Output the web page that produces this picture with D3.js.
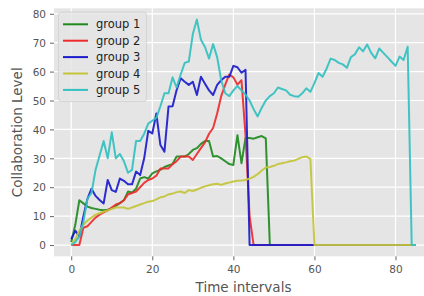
<!DOCTYPE html>
<html><head><meta charset="utf-8">
<script src="https://cdn.jsdelivr.net/npm/d3@7"></script>
<style>
html,body{margin:0;padding:0;background:#fff;}
svg{display:block;font-family:"DejaVu Sans",sans-serif;}
</style></head>
<body><svg id="c" width="424" height="296"></svg>
<script>
const seriesNames = ["group 1","group 2","group 3","group 4","group 5"];
const seriesColors = ["#1f8a1f","#ee2b2b","#1c1ccc","#c4c43a","#33c0c0"];
const xTicks = [0,20,40,60,80];
const yTicks = [0,10,20,30,40,50,60,70,80];

const group1 = [1,7,15.5,14.4,13.3,12.8,12.5,12.2,12,12.2,12.7,13.5,14.5,15.5,18.5,18.2,19.5,23,23.5,23,24.8,25.5,26,27,27.5,28,30.6,30.6,30.6,31.5,32.9,33.5,35,36,36,30.6,30.8,30,29,28,27.7,38,28.3,37,37,36.8,37.3,37.7,36.9,0,
  0,0,0,0,0,0,0,0,0,0,0,0,0,0,0,0,0,0,0,0,0,0,0,0,0,0,0,0,0,0,0,0,0,0,0,0];
const group2 = [0,0,0,6,6.5,8,9.5,10.5,11.3,12,13,14,14.5,15.5,17.5,18,18.5,20,21.5,22.5,23,24,26.5,26.5,26.5,28,29,30.6,30.6,30.6,29.4,31.5,33.5,35.5,38.5,40.5,45.5,51.5,55.5,59,58,55.5,57,38,10,0,
  0,0,0,0,0,0,0,0,0,0,0,0,0,0,0,0,0,0,0,0,0,0,0,0,0,0,0,0,0,0,0,0,0,0,0,0,0,0,0,0];
const group3 = [2,5,3,10,16,19.5,17,15.6,14.4,22.5,19,18.4,23,22.2,21,21,25.4,24.2,30,39.5,38.6,45.5,34.6,32.3,47.9,48,53.6,57.7,56.5,55.4,56.5,51.9,58.2,55.8,53.5,51.9,55.4,57,58.2,58.2,62,61.5,59.6,60.6,0,
  0,0,0,0,0,0,0,0,0,0,0,0,0,0,0,0,0,0,0,0,0,0,0,0,0,0,0,0,0,0,0,0,0,0,0,0,0,0,0,0,0];
const group4 = [0,2,5,7,8.5,9.5,10.5,11,11.5,12,12.5,13,13,13,12.5,13,13.5,14,14.5,15,15.2,15.8,16.5,16.8,17.5,17.8,18.3,18.5,18,19,18.7,19.2,19.8,20.3,20.7,21,21.2,20.8,21.3,21.6,22,22.2,22.3,22.5,23,23.6,24.5,25.8,26.8,27,27.4,28,28.3,28.6,29,29.2,29.8,30.4,30.6,29.8,0,
  0,0,0,0,0,0,0,0,0,0,0,0,0,0,0,0,0,0,0,0,0,0,0,0,0];
const group5 = [0,1,3,8,16,18,26,31,36,30,39,30,31.5,29,25,26,36,36,38.5,42,43,44,48,52.5,52.5,58,54.5,59,63,63.5,73,78,71,68.5,64.5,69.5,65,57,52.5,51.5,53.5,55,53.5,52,50,47,44.5,47.5,50,51.5,52.5,54.5,54,53.5,52,51.5,51.3,52.5,54.2,53,56,59.5,58.2,61,64.5,64,63,62.5,61.3,65,66,68.4,67,69.4,66.5,64.6,68,66.5,65,63.5,62,65.2,64,68.6,0,0];

const allSeries = [group1,group2,group3,group4,group5];

const svg = d3.select("#c");
const pL = 54, pR = 433, pT = 8.3, pB = 256.3;
const x = d3.scaleLinear().domain([-4.25, 89.25]).range([pL, pR]);
const y = d3.scaleLinear().domain([-3.9, 81.9]).range([pB, pT]);

// background
svg.append("rect").attr("x", pL).attr("y", pT).attr("width", pR-pL).attr("height", pB-pT).attr("fill", "#e5e5e5");

// grid
const g = svg.append("g");
g.selectAll("line.gx").data(xTicks).join("line").attr("class","gx")
  .attr("x1", d=>x(d)).attr("x2", d=>x(d)).attr("y1", pT).attr("y2", pB)
  .attr("stroke", "#fff").attr("stroke-width", 1.2);
g.selectAll("line.gy").data(yTicks).join("line").attr("class","gy")
  .attr("y1", d=>y(d)).attr("y2", d=>y(d)).attr("x1", pL).attr("x2", pR)
  .attr("stroke", "#fff").attr("stroke-width", 1.2);

// axes via d3
const xAxis = d3.axisBottom(x).tickValues(xTicks).tickSize(4).tickPadding(3);
const yAxis = d3.axisLeft(y).tickValues(yTicks).tickSize(4).tickPadding(4);
const xa = svg.append("g").attr("transform", `translate(0,${pB})`).call(xAxis);
const ya = svg.append("g").attr("transform", `translate(${pL},0)`).call(yAxis);
[xa, ya].forEach(a => {
  a.select(".domain").remove();
  a.selectAll(".tick line").attr("stroke", "#666");
  a.selectAll(".tick text").attr("fill", "#555").attr("font-size", 10.5)
    .attr("font-family", "DejaVu Sans, sans-serif");
});
xa.selectAll(".tick text").attr("dy", null).attr("y", 17);
ya.selectAll(".tick text").attr("dy", "0.35em");

// lines
const line = d3.line().x((d,i)=>x(i)).y(d=>y(d));
allSeries.forEach((s, k) => {
  svg.append("path").datum(s).attr("d", line).attr("fill", "none")
    .attr("stroke", seriesColors[k]).attr("stroke-width", 2).attr("stroke-linejoin", "round").attr("opacity", 0.92);
});

// axis labels
svg.append("text").attr("x", (pL+pR)/2).attr("y", 292).attr("text-anchor", "middle")
  .attr("font-size", 13.5).attr("fill", "#555").text("Time intervals");
svg.append("text").attr("transform", `translate(22,${(pT+pB)/2}) rotate(-90)`).attr("text-anchor", "middle")
  .attr("font-size", 13.5).attr("fill", "#555").text("Collaboration Level");

// legend
const lg = svg.append("g");
lg.append("rect").attr("x", 58.5).attr("y", 12).attr("width", 88).attr("height", 89.5).attr("rx", 3)
  .attr("fill", "#e5e5e5").attr("fill-opacity", 0.85).attr("stroke", "#cfcfcf").attr("stroke-width", 0.8);
seriesNames.forEach((n, k) => {
  const yy = 24.3 + k*16.4;
  lg.append("line").attr("x1", 63).attr("x2", 88).attr("y1", yy).attr("y2", yy)
    .attr("stroke", seriesColors[k]).attr("stroke-width", 2);
  lg.append("text").attr("x", 96).attr("y", yy).attr("dy", "0.36em").attr("font-size", 11.5)
    .attr("fill", "#222").text(n);
});
</script></body></html>
